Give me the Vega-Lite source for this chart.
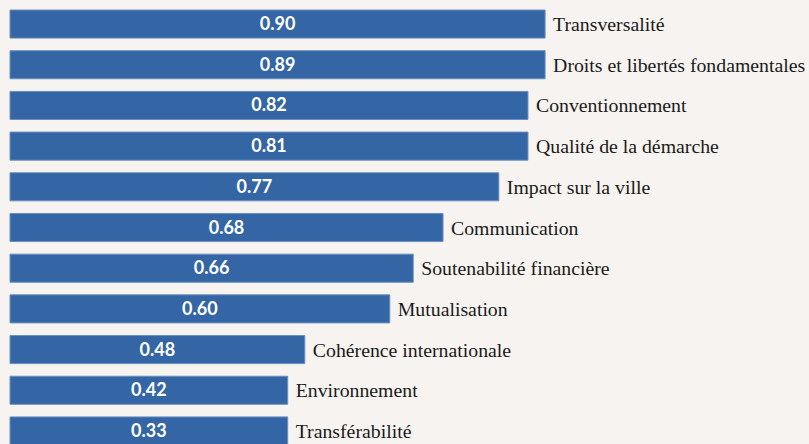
{
  "$schema": "https://vega.github.io/schema/vega-lite/v6.json",
  "width": 634,
  "height": 455,
  "autosize": {"type": "none"},
  "padding": {"left": 10, "top": 0, "right": 165, "bottom": 0},
  "background": "#f7f3f0",
  "config": {"view": {"stroke": null}},
  "data": {
    "values": [
      {"critere": "Transversalité", "valeur": 0.90, "longueur": 0.844},
      {"critere": "Droits et libertés fondamentales", "valeur": 0.89, "longueur": 0.844},
      {"critere": "Conventionnement", "valeur": 0.82, "longueur": 0.817},
      {"critere": "Qualité de la démarche", "valeur": 0.81, "longueur": 0.817},
      {"critere": "Impact sur la ville", "valeur": 0.77, "longueur": 0.771},
      {"critere": "Communication", "valeur": 0.68, "longueur": 0.683},
      {"critere": "Soutenabilité financière", "valeur": 0.66, "longueur": 0.636},
      {"critere": "Mutualisation", "valeur": 0.60, "longueur": 0.599},
      {"critere": "Cohérence internationale", "valeur": 0.48, "longueur": 0.465},
      {"critere": "Environnement", "valeur": 0.42, "longueur": 0.438},
      {"critere": "Transférabilité", "valeur": 0.33, "longueur": 0.438}
    ]
  },
  "encoding": {
    "y": {
      "field": "critere",
      "type": "nominal",
      "sort": null,
      "axis": null,
      "scale": {"paddingInner": 0.31, "paddingOuter": 0.246}
    }
  },
  "layer": [
    {
      "mark": {"type": "bar", "color": "#3465a4", "stroke": "#6a8fc0", "strokeWidth": 1},
      "encoding": {
        "x": {"field": "longueur", "type": "quantitative", "axis": null, "scale": {"domain": [0, 1]}}
      }
    },
    {
      "mark": {"type": "text", "color": "#ffffff", "font": "Lato", "fontSize": 18, "fontWeight": "bold", "baseline": "middle", "align": "center", "dy": 1},
      "encoding": {
        "x": {"field": "longueur", "type": "quantitative", "axis": null, "scale": {"domain": [0, 2]}},
        "text": {"field": "valeur", "type": "quantitative", "format": ".2f"}
      }
    },
    {
      "mark": {"type": "text", "color": "#1a1a1a", "font": "Liberation Serif", "fontSize": 19.8, "baseline": "middle", "align": "left", "dx": 8, "dy": 1},
      "encoding": {
        "x": {"field": "longueur", "type": "quantitative", "axis": null, "scale": {"domain": [0, 1]}},
        "text": {"field": "critere", "type": "nominal"}
      }
    }
  ],
  "resolve": {"scale": {"x": "independent"}}
}
